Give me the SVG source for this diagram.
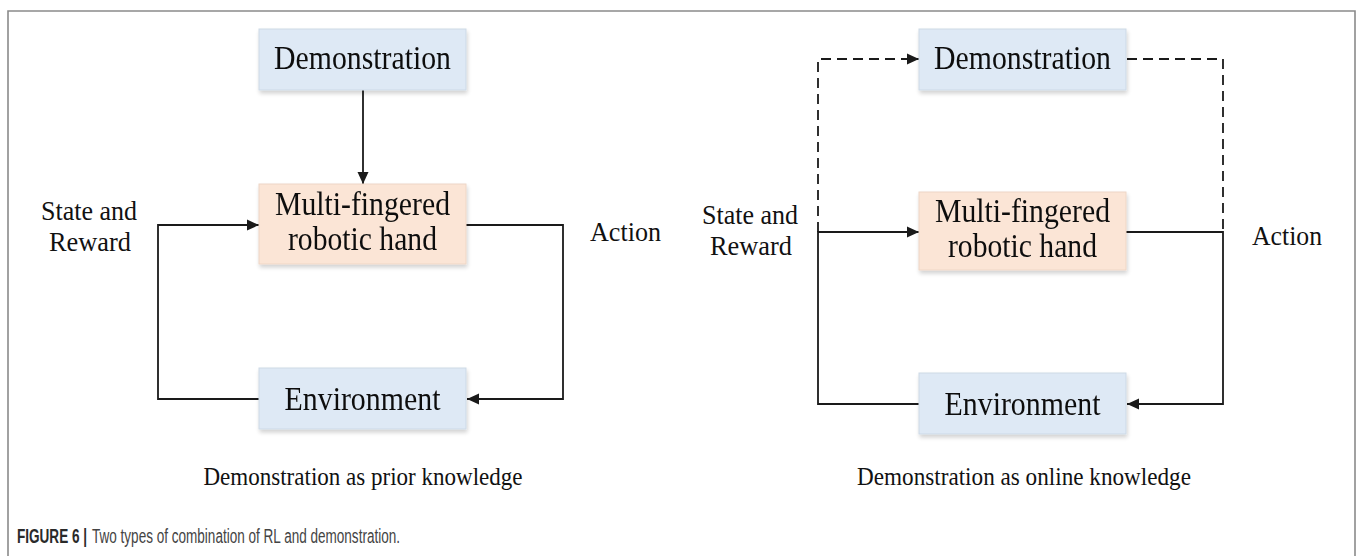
<svg xmlns="http://www.w3.org/2000/svg" width="1360" height="556" viewBox="0 0 1360 556">
  <style>
    .box-blue { fill: #dee9f5; stroke: #cdd9e6; stroke-width: 1; }
    .box-peach { fill: #fbe5d6; stroke: #eed6c6; stroke-width: 1; }
    .node-text { font-family: "Liberation Serif", "Times New Roman", serif; font-size: 33px; fill: #111; text-anchor: middle; }
    .label { font-family: "Liberation Serif", "Times New Roman", serif; font-size: 28px; fill: #111; }
    .subcap { font-family: "Liberation Serif", "Times New Roman", serif; font-size: 25px; fill: #111; text-anchor: middle; }
    .wire { fill: none; stroke: #1a1a1a; stroke-width: 1.8; }
    .dash { stroke-dasharray: 10 6; }
    .frame { fill: none; stroke: #8a8a8a; stroke-width: 1.6; }
    .cap-bold { font-family: "Liberation Sans", Arial, sans-serif; font-weight: bold; font-size: 20px; fill: #2a2a2a; }
    .cap-text { font-family: "Liberation Sans", Arial, sans-serif; font-size: 20px; fill: #444; }
  </style>
  <defs>
    <marker id="arrow" markerUnits="userSpaceOnUse" markerWidth="14" markerHeight="14" viewBox="0 0 14 14" refX="12" refY="7" orient="auto">
      <path d="M0,1.5 L12,7 L0,12.5 Z" fill="#1a1a1a"/>
    </marker>
    <filter id="shadow" x="-10%" y="-10%" width="125%" height="140%">
      <feGaussianBlur in="SourceAlpha" stdDeviation="2"/>
      <feOffset dx="1" dy="3" result="b"/>
      <feComponentTransfer><feFuncA type="linear" slope="0.18"/></feComponentTransfer>
      <feMerge><feMergeNode/><feMergeNode in="SourceGraphic"/></feMerge>
    </filter>
  </defs>

  <rect width="1360" height="556" fill="#ffffff"/>
  <!-- outer figure frame, open at the bottom -->
  <path class="frame" d="M8,556 L8,11 L1355,11 L1355,556"/>

  <!-- connectors -->
  <g id="connectors">
    <!-- left: prior knowledge -->
    <line class="wire" x1="363" y1="90" x2="363" y2="184" marker-end="url(#arrow)"/>
    <path class="wire" d="M259,399 L158,399 L158,225 L259,225" marker-end="url(#arrow)"/>
    <path class="wire" d="M466,225 L563,225 L563,399 L467,399" marker-end="url(#arrow)"/>
    <!-- right: online knowledge -->
    <path class="wire" d="M919,404 L818,404 L818,232 L919,232" marker-end="url(#arrow)"/>
    <path class="wire" d="M1126,232 L1223,232 L1223,404 L1127,404" marker-end="url(#arrow)"/>
    <path class="wire dash" d="M818,232 L818,59 L919,59" marker-end="url(#arrow)"/>
    <path class="wire dash" d="M1127,59 L1223,59 L1223,232"/>
  </g>

  <!-- left diagram nodes -->
  <g id="demo-left" filter="url(#shadow)">
    <rect class="box-blue" x="259" y="29" width="207" height="61"/>
    <text class="node-text" x="362.5" y="69" textLength="177" lengthAdjust="spacingAndGlyphs">Demonstration</text>
  </g>
  <g id="hand-left" filter="url(#shadow)">
    <rect class="box-peach" x="259" y="184" width="207" height="80"/>
    <text class="node-text" x="362.5" y="215" textLength="175" lengthAdjust="spacingAndGlyphs">Multi-fingered</text>
    <text class="node-text" x="362.5" y="250" textLength="149" lengthAdjust="spacingAndGlyphs">robotic hand</text>
  </g>
  <g id="env-left" filter="url(#shadow)">
    <rect class="box-blue" x="259" y="368" width="207" height="61"/>
    <text class="node-text" x="362.5" y="410" textLength="156" lengthAdjust="spacingAndGlyphs">Environment</text>
  </g>

  <!-- right diagram nodes -->
  <g id="demo-right" filter="url(#shadow)">
    <rect class="box-blue" x="919" y="29" width="207" height="61"/>
    <text class="node-text" x="1022.5" y="69" textLength="177" lengthAdjust="spacingAndGlyphs">Demonstration</text>
  </g>
  <g id="hand-right" filter="url(#shadow)">
    <rect class="box-peach" x="919" y="192" width="207" height="78"/>
    <text class="node-text" x="1022.5" y="222" textLength="175" lengthAdjust="spacingAndGlyphs">Multi-fingered</text>
    <text class="node-text" x="1022.5" y="257" textLength="149" lengthAdjust="spacingAndGlyphs">robotic hand</text>
  </g>
  <g id="env-right" filter="url(#shadow)">
    <rect class="box-blue" x="919" y="373" width="207" height="61"/>
    <text class="node-text" x="1022.5" y="415" textLength="156" lengthAdjust="spacingAndGlyphs">Environment</text>
  </g>

  <!-- edge labels -->
  <g id="labels">
    <text class="label" x="41" y="220" textLength="96" lengthAdjust="spacingAndGlyphs">State and</text>
    <text class="label" x="49" y="251" textLength="82" lengthAdjust="spacingAndGlyphs">Reward</text>
    <text class="label" x="590" y="241" textLength="71" lengthAdjust="spacingAndGlyphs">Action</text>
    <text class="label" x="702" y="224" textLength="96" lengthAdjust="spacingAndGlyphs">State and</text>
    <text class="label" x="710" y="255" textLength="82" lengthAdjust="spacingAndGlyphs">Reward</text>
    <text class="label" x="1252" y="245" textLength="70" lengthAdjust="spacingAndGlyphs">Action</text>
  </g>

  <!-- sub-captions -->
  <text class="subcap" x="363" y="485" textLength="319" lengthAdjust="spacingAndGlyphs">Demonstration as prior knowledge</text>
  <text class="subcap" x="1024" y="485" textLength="334" lengthAdjust="spacingAndGlyphs">Demonstration as online knowledge</text>

  <!-- figure caption, set in a condensed sans (horizontal squeeze) -->
  <text class="cap-bold" transform="translate(17,543) scale(0.68,1)" textLength="103" lengthAdjust="spacingAndGlyphs">FIGURE 6 |</text>
  <text class="cap-text" transform="translate(92,543) scale(0.68,1)" textLength="453" lengthAdjust="spacingAndGlyphs">Two types of combination of RL and demonstration.</text>
</svg>
